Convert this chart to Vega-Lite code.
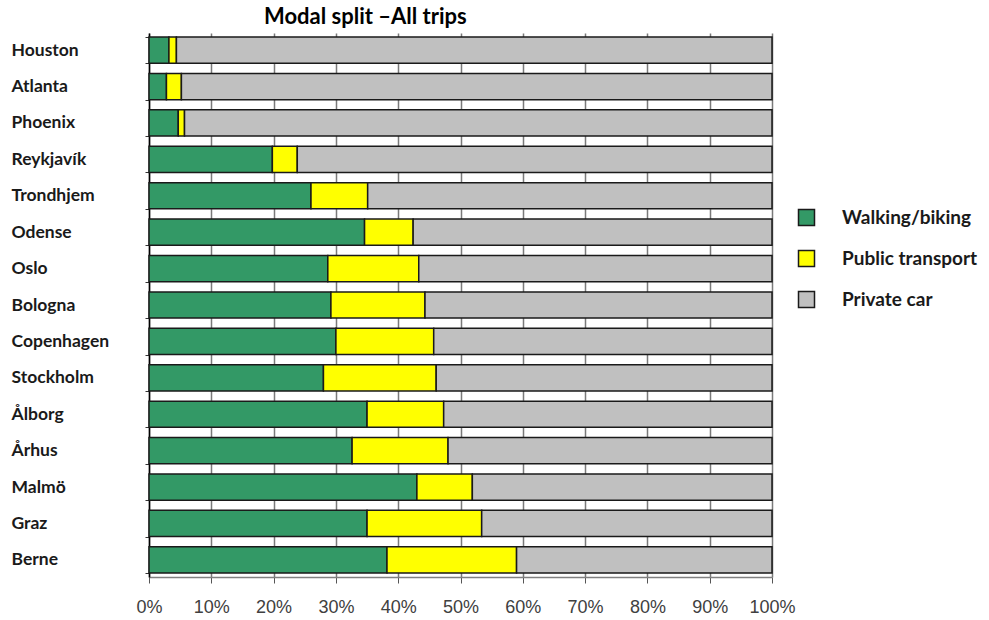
{
  "$schema": "https://vega.github.io/schema/vega-lite/v6.json",
  "autosize": "none",
  "padding": {"left": 149, "top": 33, "right": 217, "bottom": 43},
  "width": 623,
  "height": 544,
  "background": "white",
  "title": {
    "text": "Modal split –All trips",
    "anchor": "start",
    "frame": "group",
    "dx": 115,
    "offset": -5,
    "font": "Lato",
    "fontSize": 22,
    "fontWeight": "bold",
    "color": "#000000"
  },
  "data": {
    "values": [
      {"city": "Houston", "mode": "Walking/biking", "share": 3.2, "k": 1},
      {"city": "Houston", "mode": "Public transport", "share": 1.2, "k": 2},
      {"city": "Houston", "mode": "Private car", "share": 95.6, "k": 3},
      {"city": "Atlanta", "mode": "Walking/biking", "share": 2.8, "k": 1},
      {"city": "Atlanta", "mode": "Public transport", "share": 2.4, "k": 2},
      {"city": "Atlanta", "mode": "Private car", "share": 94.8, "k": 3},
      {"city": "Phoenix", "mode": "Walking/biking", "share": 4.7, "k": 1},
      {"city": "Phoenix", "mode": "Public transport", "share": 1.0, "k": 2},
      {"city": "Phoenix", "mode": "Private car", "share": 94.3, "k": 3},
      {"city": "Reykjavík", "mode": "Walking/biking", "share": 19.8, "k": 1},
      {"city": "Reykjavík", "mode": "Public transport", "share": 4.0, "k": 2},
      {"city": "Reykjavík", "mode": "Private car", "share": 76.2, "k": 3},
      {"city": "Trondhjem", "mode": "Walking/biking", "share": 26.0, "k": 1},
      {"city": "Trondhjem", "mode": "Public transport", "share": 9.1, "k": 2},
      {"city": "Trondhjem", "mode": "Private car", "share": 64.9, "k": 3},
      {"city": "Odense", "mode": "Walking/biking", "share": 34.6, "k": 1},
      {"city": "Odense", "mode": "Public transport", "share": 7.8, "k": 2},
      {"city": "Odense", "mode": "Private car", "share": 57.6, "k": 3},
      {"city": "Oslo", "mode": "Walking/biking", "share": 28.7, "k": 1},
      {"city": "Oslo", "mode": "Public transport", "share": 14.6, "k": 2},
      {"city": "Oslo", "mode": "Private car", "share": 56.7, "k": 3},
      {"city": "Bologna", "mode": "Walking/biking", "share": 29.2, "k": 1},
      {"city": "Bologna", "mode": "Public transport", "share": 15.1, "k": 2},
      {"city": "Bologna", "mode": "Private car", "share": 55.7, "k": 3},
      {"city": "Copenhagen", "mode": "Walking/biking", "share": 30.0, "k": 1},
      {"city": "Copenhagen", "mode": "Public transport", "share": 15.7, "k": 2},
      {"city": "Copenhagen", "mode": "Private car", "share": 54.3, "k": 3},
      {"city": "Stockholm", "mode": "Walking/biking", "share": 28.0, "k": 1},
      {"city": "Stockholm", "mode": "Public transport", "share": 18.1, "k": 2},
      {"city": "Stockholm", "mode": "Private car", "share": 53.9, "k": 3},
      {"city": "Ålborg", "mode": "Walking/biking", "share": 35.0, "k": 1},
      {"city": "Ålborg", "mode": "Public transport", "share": 12.3, "k": 2},
      {"city": "Ålborg", "mode": "Private car", "share": 52.7, "k": 3},
      {"city": "Århus", "mode": "Walking/biking", "share": 32.6, "k": 1},
      {"city": "Århus", "mode": "Public transport", "share": 15.4, "k": 2},
      {"city": "Århus", "mode": "Private car", "share": 52.0, "k": 3},
      {"city": "Malmö", "mode": "Walking/biking", "share": 43.0, "k": 1},
      {"city": "Malmö", "mode": "Public transport", "share": 8.9, "k": 2},
      {"city": "Malmö", "mode": "Private car", "share": 48.1, "k": 3},
      {"city": "Graz", "mode": "Walking/biking", "share": 35.0, "k": 1},
      {"city": "Graz", "mode": "Public transport", "share": 18.4, "k": 2},
      {"city": "Graz", "mode": "Private car", "share": 46.6, "k": 3},
      {"city": "Berne", "mode": "Walking/biking", "share": 38.2, "k": 1},
      {"city": "Berne", "mode": "Public transport", "share": 20.8, "k": 2},
      {"city": "Berne", "mode": "Private car", "share": 41.0, "k": 3}
    ]
  },
  "mark": {"type": "bar", "stroke": "#1a1a1a", "strokeWidth": 1.5},
  "encoding": {
    "y": {
      "field": "city",
      "type": "nominal",
      "sort": ["Houston", "Atlanta", "Phoenix", "Reykjavík", "Trondhjem", "Odense", "Oslo", "Bologna", "Copenhagen", "Stockholm", "Ålborg", "Århus", "Malmö", "Graz", "Berne"],
      "scale": {"paddingInner": 0.28, "paddingOuter": 0.11},
      "axis": {
        "title": null,
        "labelAlign": "left",
        "tickSize": 4,
        "labelPadding": 134,
        "tickBand": "extent",
        "domainColor": "#000000",
        "domainWidth": 1.5,
        "tickColor": "#333333",
        "labelFont": "Lato",
        "labelFontSize": 17.5,
        "labelFontWeight": "bold",
        "labelColor": "#1a1a1a"
      }
    },
    "x": {
      "field": "share",
      "type": "quantitative",
      "stack": "normalize",
      "scale": {"domain": [0, 1]},
      "axis": {
        "title": null,
        "format": "%",
        "values": [0, 0.1, 0.2, 0.3, 0.4, 0.5, 0.6, 0.7, 0.8, 0.9, 1],
        "labelOverlap": false,
        "labelFlush": false,
        "grid": true,
        "gridColor": "#7a7a7a",
        "gridWidth": 1.5,
        "domainColor": "#808080",
        "domainWidth": 1.5,
        "tickColor": "#555555",
        "tickSize": 6,
        "labelPadding": 15,
        "labelFont": "Liberation Sans",
        "labelFontSize": 18,
        "labelColor": "#404040"
      }
    },
    "color": {
      "field": "mode",
      "type": "nominal",
      "scale": {
        "domain": ["Walking/biking", "Public transport", "Private car"],
        "range": ["#339966", "#ffff00", "#c0c0c0"]
      },
      "legend": {
        "title": null,
        "orient": "none",
        "legendX": 648,
        "legendY": 175,
        "symbolType": "square",
        "symbolSize": 256,
        "symbolStrokeColor": "#1a1a1a",
        "symbolStrokeWidth": 1.5,
        "labelFont": "Lato",
        "labelFontSize": 19,
        "labelFontWeight": "bold",
        "labelColor": "#1a1a1a",
        "labelOffset": 26,
        "rowPadding": 18
      }
    },
    "order": {"field": "k", "type": "quantitative"}
  },
  "config": {"view": {"stroke": null}}
}
